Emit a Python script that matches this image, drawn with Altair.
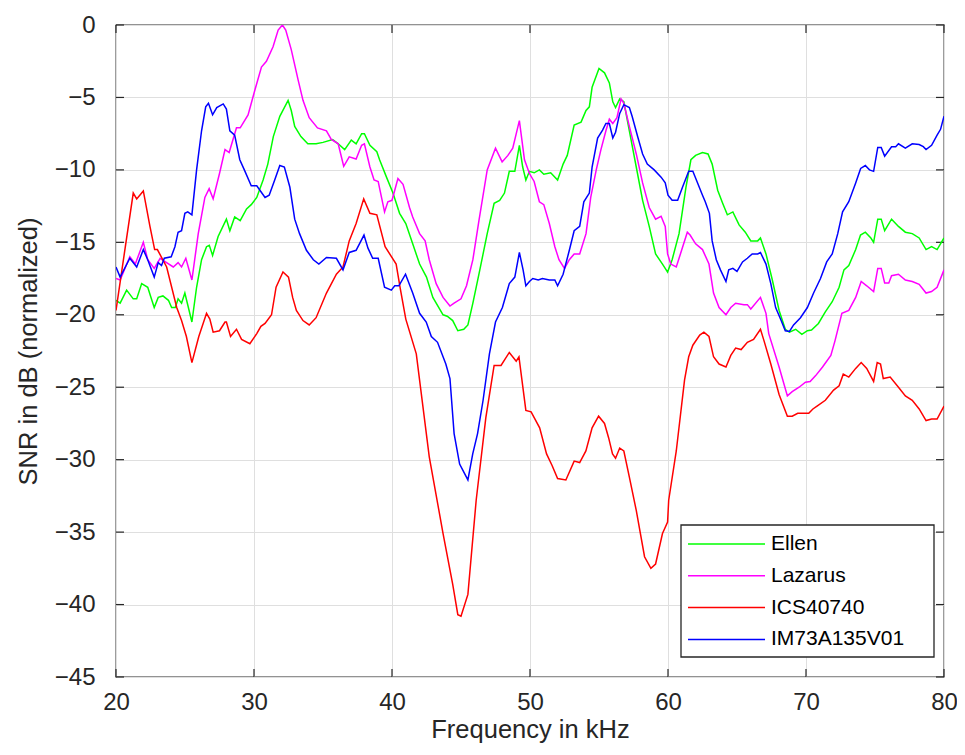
import altair as alt
import pandas as pd

# ---------------- data ----------------
series_names = ["Ellen", "Lazarus", "ICS40740", "IM73A135V01"]
series_colors = ["#00ff00", "#ff00ff", "#ff0000", "#0000ff"]

ellen_f = [20.0, 20.3, 20.77, 21.25, 21.5, 21.86, 22.3, 22.5, 22.77, 23.06, 23.4, 23.8, 24.03, 24.3,
           24.5, 24.75, 24.99, 25.5, 25.84, 26.2, 26.56, 26.76, 27.0, 27.4, 28.0, 28.25, 28.6, 29.0,
           29.46, 29.8, 30.2, 30.66, 31.0, 31.4, 31.87, 32.47, 32.7, 32.95, 33.4, 33.9, 34.5, 35.0,
           35.7, 36.1, 36.57, 37.05, 37.4, 37.8, 38.0, 38.4, 38.9, 39.1, 39.6, 40.07, 40.55, 41.0,
           41.5, 42.0, 42.5, 42.96, 43.7, 44.0, 44.4, 44.77, 45.2, 45.5, 45.86, 46.3, 46.9, 47.4,
           47.8, 48.15, 48.5, 48.9, 49.23, 49.47, 49.7, 49.96, 50.3, 50.68, 51.0, 51.5, 52.0, 52.4,
           52.7, 53.2, 53.7, 54.06, 54.3, 54.5, 55.0, 55.4, 55.75, 56.0, 56.2, 56.5, 56.8, 57.2,
           57.7, 58.16, 58.64, 59.1, 59.6, 59.97, 60.3, 60.8, 61.3, 61.66, 62.0, 62.5, 62.9, 63.2,
           63.6, 63.96, 64.3, 64.7, 65.15, 65.6, 66.0, 66.5, 66.7, 67.1, 67.56, 68.05, 68.5, 68.8,
           69.25, 69.7, 70.1, 70.4, 70.9, 71.4, 71.9, 72.4, 72.75, 73.1, 73.6, 73.95, 74.3, 74.7,
           74.9, 75.2, 75.45, 75.7, 76.2, 76.7, 77.2, 77.7, 78.2, 78.7, 79.1, 79.5, 80.0]
ellen_v = [-19.0, -19.2, -18.3, -18.9, -18.9, -17.85, -18.1, -18.7, -19.5, -18.8, -18.7, -19.0, -19.5, -19.5,
           -18.9, -19.2, -18.5, -20.5, -18.1, -16.2, -15.3, -15.2, -15.9, -14.6, -13.4, -14.2, -13.25, -13.5,
           -12.7, -12.4, -11.9, -10.7, -9.6, -7.7, -6.3, -5.2, -5.9, -7.0, -7.7, -8.2, -8.2, -8.1,
           -7.9, -8.2, -8.6, -7.95, -8.2, -7.5, -7.5, -8.3, -8.75, -9.3, -10.5, -11.6, -13.0, -13.7,
           -15.1, -16.5, -17.4, -18.8, -20.0, -20.1, -20.4, -21.1, -21.0, -20.7, -19.2, -17.2, -14.4, -12.3,
           -12.1, -11.6, -10.1, -10.1, -8.3, -9.8, -10.7, -10.1, -10.2, -10.0, -10.3, -10.2, -10.7, -9.6,
           -9.0, -6.9, -6.7, -5.9, -5.65, -4.3, -3.0, -3.3, -4.0, -5.3, -5.7, -5.1, -5.3, -7.3,
           -9.8, -12.1, -13.9, -15.8, -16.5, -17.05, -16.2, -14.4, -11.2, -9.3, -9.0, -8.8, -8.9, -9.6,
           -11.4, -12.3, -13.1, -12.9, -13.8, -14.3, -14.9, -14.9, -14.7, -15.8, -17.6, -19.7, -21.0, -21.2,
           -21.0, -21.35, -21.1, -21.05, -20.6, -19.8, -19.1, -18.1, -16.9, -16.6, -15.5, -14.5, -14.3, -14.7,
           -15.0, -13.4, -13.4, -14.2, -13.4, -13.9, -14.3, -14.4, -14.7, -15.5, -15.3, -15.5, -14.7]

lazarus_f = [20.0, 20.3, 21.0, 21.4, 21.98, 22.3, 22.77, 23.2, 23.5, 24.15, 24.5, 24.75, 25.06, 25.5,
             25.96, 26.44, 26.75, 27.04, 27.5, 27.9, 28.2, 28.73, 29.0, 29.57, 30.06, 30.54, 30.9, 31.38,
             31.75, 32.06, 32.3, 32.7, 33.2, 33.55, 34.0, 34.6, 35.25, 35.6, 36.1, 36.5, 36.9, 37.4,
             37.8, 38.0, 38.4, 38.7, 39.0, 39.46, 39.7, 40.0, 40.43, 40.8, 41.27, 41.5, 42.0, 42.4,
             42.7, 43.2, 43.7, 44.2, 44.5, 45.0, 45.4, 45.86, 46.3, 46.9, 47.5, 47.98, 48.4, 48.75,
             49.23, 49.6, 49.96, 50.3, 50.68, 51.0, 51.4, 51.8, 52.1, 52.5, 52.85, 53.2, 53.6, 54.06,
             54.4, 54.8, 55.14, 55.5, 55.75, 56.0, 56.3, 56.6, 56.8, 57.2, 57.7, 58.16, 58.64, 59.1,
             59.5, 59.8, 59.97, 60.2, 60.6, 60.9, 61.4, 61.6, 62.0, 62.5, 62.97, 63.3, 63.7, 64.2,
             64.55, 64.9, 65.5, 65.75, 66.0, 66.7, 67.1, 67.3, 68.05, 68.65, 69.0, 69.5, 69.96, 70.3,
             70.7, 71.2, 71.8, 72.1, 72.6, 73.1, 73.6, 74.0, 74.4, 74.9, 75.2, 75.45, 75.7, 76.0,
             76.2, 76.7, 77.2, 77.7, 78.2, 78.7, 79.1, 79.5, 80.0]
lazarus_v = [-17.5, -17.6, -16.0, -16.5, -15.0, -16.2, -16.8, -16.1, -16.3, -16.7, -16.4, -16.7, -16.1, -17.6,
             -14.4, -11.9, -11.3, -12.0, -10.25, -8.6, -8.8, -7.1, -7.1, -6.2, -4.5, -2.9, -2.5, -1.5,
             -0.35, 0.0, -0.35, -1.7, -3.8, -5.2, -6.4, -7.1, -7.3, -7.9, -8.2, -9.75, -9.1, -9.25,
             -8.3, -8.2, -9.8, -10.7, -10.8, -12.9, -12.2, -12.1, -10.6, -11.0, -12.6, -13.25, -14.4, -14.9,
             -16.2, -17.85, -18.8, -19.4, -19.2, -18.9, -18.0, -16.2, -13.5, -10.0, -8.5, -9.45, -9.0, -8.5,
             -6.6, -9.3, -10.25, -10.8, -12.2, -12.4, -13.7, -15.3, -16.2, -16.8, -16.2, -15.8, -15.8, -14.4,
             -11.9, -10.0, -8.6, -7.3, -6.5, -6.8, -6.4, -5.1, -5.4, -7.0, -8.9, -10.9, -12.6, -13.4,
             -13.2, -13.9, -15.8, -16.5, -16.7, -15.8, -14.3, -14.5, -15.1, -15.5, -16.5, -18.5, -19.5, -20.0,
             -19.5, -19.2, -19.3, -19.3, -19.6, -18.8, -19.9, -21.3, -23.6, -25.6, -25.3, -25.0, -24.65, -24.6,
             -24.2, -23.6, -22.8, -21.8, -19.9, -19.7, -18.8, -17.7, -18.0, -18.4, -16.8, -16.8, -17.8, -17.8,
             -17.3, -17.2, -17.6, -17.7, -17.9, -18.5, -18.4, -18.1, -16.9]

ics_f = [20.0, 20.6, 21.25, 21.5, 21.98, 22.46, 22.8, 23.0, 23.67, 24.4, 24.75, 25.1, 25.5, 26.0,
         26.56, 26.8, 27.04, 27.5, 27.9, 28.0, 28.3, 28.73, 29.1, 29.7, 30.2, 30.5, 30.8, 31.27,
         31.6, 32.1, 32.5, 32.8, 33.07, 33.55, 34.0, 34.5, 35.25, 35.97, 36.45, 36.9, 37.4, 37.95,
         38.4, 38.9, 39.5, 40.3, 40.6, 41.0, 41.76, 42.7, 43.7, 44.4, 44.77, 45.0, 45.5, 46.1,
         46.8, 47.4, 47.9, 48.5, 49.0, 49.2, 49.7, 50.08, 50.7, 51.2, 51.6, 52.0, 52.6, 53.2,
         53.6, 54.05, 54.5, 54.97, 55.4, 55.7, 55.98, 56.2, 56.5, 56.8, 57.2, 57.7, 58.3, 58.76,
         59.1, 59.6, 59.97, 60.05, 60.6, 61.2, 61.5, 61.8, 62.3, 62.6, 62.97, 63.3, 63.7, 64.2,
         64.55, 64.9, 65.3, 65.75, 66.2, 66.7, 66.96, 67.45, 68.05, 68.65, 69.0, 69.4, 69.9, 70.2,
         70.5, 70.8, 71.4, 72.0, 72.4, 72.7, 73.1, 73.6, 74.0, 74.4, 74.9, 75.16, 75.4, 75.6,
         76.1, 76.7, 77.2, 77.7, 78.2, 78.7, 79.1, 79.5, 80.0]
ics_v = [-19.7, -15.8, -11.6, -12.0, -11.45, -13.9, -15.5, -15.5, -16.7, -19.5, -20.4, -21.5, -23.3, -21.5,
         -19.9, -20.3, -21.2, -21.1, -20.5, -20.5, -21.5, -21.0, -21.7, -22.0, -21.3, -20.8, -20.6, -20.0,
         -18.1, -17.05, -17.4, -18.8, -19.7, -20.4, -20.7, -20.2, -18.5, -17.2, -16.7, -14.9, -13.7, -12.0,
         -13.0, -13.1, -15.3, -16.5, -18.2, -20.3, -22.7, -29.8, -35.1, -38.6, -40.7, -40.8, -39.3, -32.8,
         -27.1, -23.5, -23.5, -22.6, -23.2, -22.9, -26.6, -26.7, -27.8, -29.6, -30.4, -31.3, -31.4, -30.1,
         -30.2, -29.4, -27.8, -27.0, -27.5, -28.5, -29.6, -29.9, -29.2, -29.4, -31.2, -33.5, -36.7, -37.5,
         -37.2, -35.1, -34.3, -32.8, -29.4, -24.5, -22.9, -22.1, -21.4, -21.2, -21.5, -22.9, -23.4, -23.6,
         -22.8, -22.3, -22.4, -21.9, -21.7, -21.0, -21.8, -23.4, -25.5, -27.0, -27.0, -26.8, -26.8, -26.8,
         -26.5, -26.3, -25.9, -25.2, -24.9, -24.1, -24.3, -23.7, -23.3, -23.7, -24.6, -23.3, -23.4, -24.4,
         -24.3, -25.0, -25.6, -25.9, -26.5, -27.3, -27.2, -27.2, -26.3]

im73_f = [20.0, 20.3, 21.0, 21.5, 21.98, 22.3, 22.77, 23.06, 23.3, 23.5, 24.0, 24.27, 24.5, 24.75,
          24.99, 25.2, 25.5, 25.84, 26.2, 26.5, 26.7, 27.0, 27.3, 27.77, 28.0, 28.25, 28.6, 28.97,
          29.3, 29.8, 30.2, 30.8, 31.1, 31.5, 31.87, 32.2, 32.6, 32.95, 33.3, 33.8, 34.3, 34.7,
          35.25, 35.97, 36.45, 36.9, 37.4, 37.97, 38.26, 38.6, 39.0, 39.46, 39.95, 40.2, 40.5, 40.98,
          41.5, 42.0, 42.48, 42.85, 43.3, 43.9, 44.2, 44.5, 44.9, 45.5, 45.85, 46.2, 46.6, 47.06,
          47.5, 48.0, 48.5, 48.9, 49.23, 49.5, 49.7, 49.96, 50.2, 50.6, 50.9, 51.4, 51.8, 52.0,
          52.4, 52.85, 53.2, 53.6, 53.9, 54.3, 54.5, 54.9, 55.26, 55.5, 55.75, 56.0, 56.2, 56.5,
          56.8, 57.2, 57.4, 57.8, 58.16, 58.5, 59.0, 59.5, 59.8, 60.0, 60.3, 60.7, 61.05, 61.5,
          61.8, 62.1, 62.5, 62.7, 63.0, 63.2, 63.5, 63.8, 64.2, 64.4, 64.7, 65.0, 65.4, 65.75,
          66.1, 66.5, 66.7, 67.1, 67.45, 67.8, 68.2, 68.5, 68.8, 69.1, 69.6, 70.1, 70.55, 71.05,
          71.5, 71.9, 72.3, 72.65, 73.1, 73.6, 73.96, 74.3, 74.6, 74.9, 75.2, 75.45, 75.7, 76.2,
          76.5, 76.7, 77.2, 77.7, 78.2, 78.5, 78.7, 79.1, 79.5, 79.75, 80.0]
im73_v = [-16.7, -17.4, -16.1, -16.7, -15.5, -16.2, -17.4, -16.4, -16.6, -16.1, -16.0, -15.3, -14.3, -14.2,
          -13.0, -12.9, -13.1, -10.0, -7.3, -5.65, -5.4, -6.2, -5.7, -5.45, -5.8, -7.3, -7.6, -9.3,
          -10.0, -11.1, -11.1, -11.9, -11.75, -10.7, -9.7, -9.8, -11.2, -13.4, -14.4, -15.55, -16.2, -16.5,
          -16.05, -16.1, -16.9, -15.7, -15.55, -14.5, -15.4, -16.1, -16.1, -18.1, -18.3, -18.0, -18.0, -17.2,
          -18.5, -19.9, -20.5, -21.5, -21.9, -23.4, -24.4, -28.2, -30.3, -31.4, -29.6, -28.2, -25.9, -22.7,
          -20.5, -19.5, -17.85, -17.4, -15.7, -16.9, -18.0, -17.7, -17.5, -17.6, -17.5, -17.6, -17.6, -18.0,
          -17.2, -15.55, -14.2, -13.9, -12.2, -11.6, -9.8, -7.8, -7.25, -6.8, -6.8, -7.8, -7.4, -6.1,
          -5.5, -5.7, -6.3, -7.7, -8.9, -9.6, -10.0, -10.5, -10.9, -11.75, -12.1, -12.1, -11.2, -10.1,
          -10.1, -10.8, -11.75, -12.2, -13.0, -14.9, -16.2, -16.9, -17.7, -16.9, -16.8, -17.0, -16.35, -16.1,
          -15.8, -15.8, -15.7, -16.5, -17.85, -19.5, -20.4, -21.1, -21.15, -20.7, -20.2, -19.5, -18.5, -17.5,
          -16.35, -15.8, -14.4, -12.9, -12.2, -10.9, -9.9, -9.7, -10.0, -10.1, -8.45, -8.45, -9.05, -8.4,
          -8.4, -8.2, -8.5, -8.2, -8.25, -8.4, -8.6, -8.3, -7.6, -7.2, -6.3]

series_f = [ellen_f, lazarus_f, ics_f, im73_f]
series_v = [ellen_v, lazarus_v, ics_v, im73_v]

x_ticks = [20, 30, 40, 50, 60, 70, 80]
y_ticks = [0, -5, -10, -15, -20, -25, -30, -35, -40, -45]

# ---------------- layout / style ----------------
W, H = 828, 652
FONT = "Liberation Sans"
DARK = "#262626"
TICK = 8

xscale = alt.Scale(domain=[20, 80], nice=False, zero=False)
yscale = alt.Scale(domain=[-45, 0], nice=False, zero=False)
cscale = alt.Scale(domain=series_names, range=series_colors)

axis_style = dict(grid=True, ticks=False, domain=False, labelFlush=False, labelOverlap=False,
                  labelFont=FONT, labelFontSize=24, labelColor=DARK,
                  titleFont=FONT, titleFontSize=25.5, titleFontWeight="normal", titleColor=DARK,
                  gridColor="#dfdfdf", gridOpacity=1, gridWidth=1)
xaxis = alt.Axis(values=x_ticks, title="Frequency in kHz", labelPadding=13,
                 titleY=60, titleBaseline="alphabetic", **axis_style)
yaxis = alt.Axis(values=y_ticks, title="SNR in dB (normalized)", labelPadding=21, titlePadding=13, **axis_style)

xt_df = pd.DataFrame({"t": x_ticks})
yt_df = pd.DataFrame({"t": y_ticks})

layers = []

# inward ticks (bottom / top / left / right)
layers.append(alt.Chart(xt_df).mark_rule(color=DARK, strokeWidth=1.2).encode(
    x=alt.X("t:Q", scale=xscale, axis=xaxis), y=alt.value(H), y2=alt.value(H - TICK)))
layers.append(alt.Chart(xt_df).mark_rule(color=DARK, strokeWidth=1.2).encode(
    x=alt.X("t:Q", scale=xscale, axis=xaxis), y=alt.value(0), y2=alt.value(TICK)))
layers.append(alt.Chart(yt_df).mark_rule(color=DARK, strokeWidth=1.2).encode(
    y=alt.Y("t:Q", scale=yscale, axis=yaxis), x=alt.value(0), x2=alt.value(TICK)))
layers.append(alt.Chart(yt_df).mark_rule(color=DARK, strokeWidth=1.2).encode(
    y=alt.Y("t:Q", scale=yscale, axis=yaxis), x=alt.value(W), x2=alt.value(W - TICK)))

# data lines, drawn in legend order (blue on top)
for name, fs, vs in zip(series_names, series_f, series_v):
    df = pd.DataFrame({"f": fs, "v": vs, "series": name})
    layers.append(alt.Chart(df).mark_line(strokeWidth=1.5, clip=True).encode(
        x=alt.X("f:Q", scale=xscale, axis=xaxis),
        y=alt.Y("v:Q", scale=yscale, axis=yaxis),
        color=alt.Color("series:N", scale=cscale, legend=None),
    ))

# legend (box, sample lines, labels)
leg_df = pd.DataFrame({"series": series_names, "row": list(range(len(series_names)))})
layers.append(alt.Chart(pd.DataFrame({"a": [0]})).mark_rect(
    fill="white", stroke=DARK, strokeWidth=1.3).encode(
    x=alt.value(565), x2=alt.value(818), y=alt.value(500), y2=alt.value(632)))
layers.append(alt.Chart(leg_df).transform_calculate(py="519 + 31.8*datum.row").mark_rule(
    strokeWidth=1.5).encode(
    x=alt.value(572), x2=alt.value(649),
    y=alt.Y("py:Q", scale=None, axis=None),
    color=alt.Color("series:N", scale=cscale, legend=None)))
layers.append(alt.Chart(leg_df).transform_calculate(py="519 + 31.8*datum.row").mark_text(
    align="left", baseline="middle", font=FONT, fontSize=21, color="#000000").encode(
    x=alt.value(655),
    y=alt.Y("py:Q", scale=None, axis=None),
    text="series:N"))

chart = alt.layer(*layers).properties(
    width=W, height=H,
    background="white",
    autosize=alt.AutoSizeParams(type="none"),
    padding={"left": 108, "top": 17, "right": 13, "bottom": 66},
).configure_view(
    stroke=DARK, strokeWidth=1.3
)

chart.save("out.html", embed_options={"renderer": "svg", "actions": False})
